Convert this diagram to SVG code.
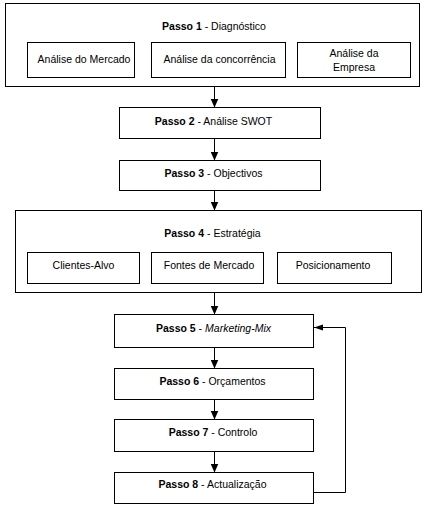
<svg xmlns="http://www.w3.org/2000/svg" width="427" height="507" viewBox="0 0 427 507">
<defs>
<marker id="ah" markerUnits="userSpaceOnUse" markerWidth="10" markerHeight="10" viewBox="0 0 10 10" refX="9" refY="5" orient="auto">
<path d="M0,1 L9,5 L0,9 Z" fill="#000"/>
</marker>
<marker id="ahs" markerUnits="userSpaceOnUse" markerWidth="10" markerHeight="8" viewBox="0 0 10 8" refX="9" refY="4" orient="auto">
<path d="M0,1 L9,4 L0,7 Z" fill="#000"/>
</marker>
</defs>
<style>
rect{fill:#fff;stroke:#000;stroke-width:1}
text{font-family:"Liberation Sans",Arial,sans-serif;font-size:10.5px;fill:#000;text-anchor:middle}
.b{font-weight:bold}
.i{font-style:italic}
.c{stroke:#000;stroke-width:1;fill:none}
</style>
<rect x="0" y="0" width="427" height="507" style="fill:#fff;stroke:none"/>
<g id="passo1">
<rect x="5.5" y="3.5" width="414" height="83"/>
<text x="214" y="29.5"><tspan class="b">Passo 1</tspan> - Diagnóstico</text>
</g>
<g id="mercado">
<rect x="27.5" y="42.5" width="107" height="35"/>
<text x="84" y="63">Análise do Mercado</text>
</g>
<g id="concorrencia">
<rect x="151.5" y="42.5" width="134" height="35"/>
<text x="219.5" y="63">Análise da concorrência</text>
</g>
<g id="empresa">
<rect x="297.5" y="42.5" width="113" height="35"/>
<text x="354" y="57">Análise da</text>
<text x="354" y="70.5">Empresa</text>
</g>
<g id="passo2">
<rect x="119.5" y="107.5" width="201" height="31"/>
<text x="213.5" y="125"><tspan class="b">Passo 2</tspan> - Análise SWOT</text>
</g>
<g id="passo3">
<rect x="119.5" y="160.5" width="201" height="30"/>
<text x="213.5" y="176.5"><tspan class="b">Passo 3</tspan> - Objectivos</text>
</g>
<g id="passo4">
<rect x="15.5" y="210.5" width="406" height="82"/>
<text x="212.5" y="237"><tspan class="b">Passo 4</tspan> - Estratégia</text>
</g>
<g id="clientes">
<rect x="27.5" y="252.5" width="112" height="31"/>
<text x="83.5" y="268.5">Clientes-Alvo</text>
</g>
<g id="fontes">
<rect x="151.5" y="252.5" width="112" height="31"/>
<text x="209" y="268.5">Fontes de Mercado</text>
</g>
<g id="posicionamento">
<rect x="277.5" y="252.5" width="114" height="31"/>
<text x="333" y="268.5">Posicionamento</text>
</g>
<g id="passo5">
<rect x="114.5" y="314.5" width="199" height="33"/>
<text x="213.5" y="331.5"><tspan class="b">Passo 5</tspan> - <tspan class="i">Marketing-Mix</tspan></text>
</g>
<g id="passo6">
<rect x="114.5" y="368.5" width="199" height="31"/>
<text x="212.5" y="384.5"><tspan class="b">Passo 6</tspan> - Orçamentos</text>
</g>
<g id="passo7">
<rect x="114.5" y="419.5" width="199" height="32"/>
<text x="213" y="435.5"><tspan class="b">Passo 7</tspan> - Controlo</text>
</g>
<g id="passo8">
<rect x="114.5" y="472.5" width="199" height="31"/>
<text x="212.5" y="487.5"><tspan class="b">Passo 8</tspan> - Actualização</text>
</g>
<g id="connectors">
<line class="c" x1="214.5" y1="86.5" x2="214.5" y2="107.5" marker-end="url(#ah)"/>
<line class="c" x1="214.5" y1="138.5" x2="214.5" y2="160.5" marker-end="url(#ah)"/>
<line class="c" x1="214.5" y1="190.5" x2="214.5" y2="210.5" marker-end="url(#ah)"/>
<line class="c" x1="214.5" y1="292.5" x2="214.5" y2="314.5" marker-end="url(#ah)"/>
<line class="c" x1="214.5" y1="347.5" x2="214.5" y2="368.5" marker-end="url(#ah)"/>
<line class="c" x1="214.5" y1="399.5" x2="214.5" y2="419.5" marker-end="url(#ah)"/>
<line class="c" x1="214.5" y1="451.5" x2="214.5" y2="472.5" marker-end="url(#ah)"/>
<polyline class="c" points="313.5,492.5 345.5,492.5 345.5,327.5 314,327.5" marker-end="url(#ahs)"/>
</g>
</svg>
